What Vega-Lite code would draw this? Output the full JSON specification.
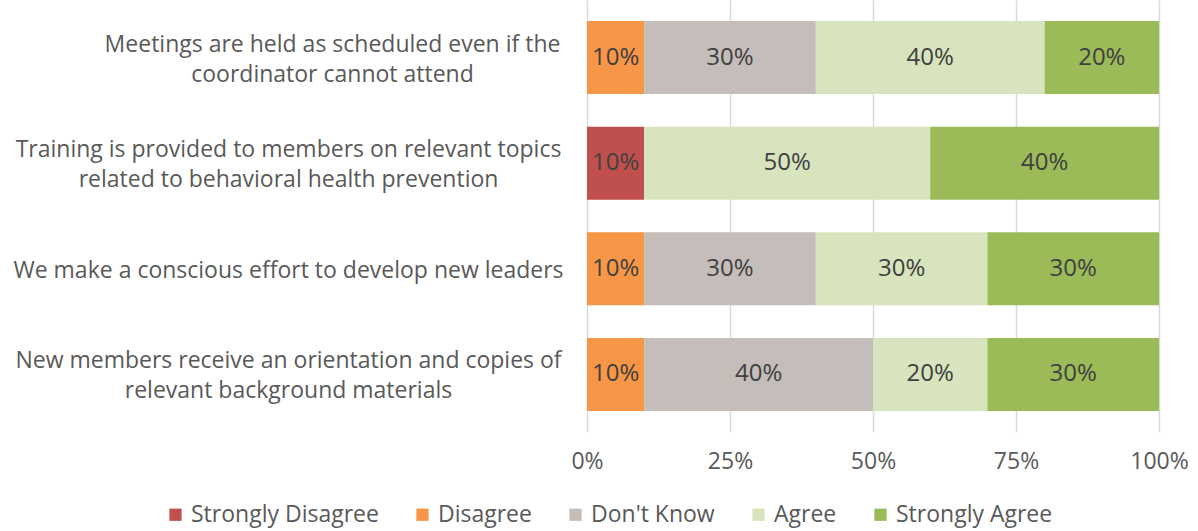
{
  "$schema": "https://vega.github.io/schema/vega-lite/v6.json",
  "width": 572,
  "height": 432,
  "autosize": {"type": "none"},
  "padding": {"left": 587, "top": 0, "right": 39, "bottom": 99},
  "background": "white",
  "data": {
    "values": [
      {"q": "Meetings are held as scheduled even if the|coordinator cannot attend", "qi": 1, "r": "Disagree", "o": 2, "v": 0.1},
      {"q": "Meetings are held as scheduled even if the|coordinator cannot attend", "qi": 1, "r": "Don't Know", "o": 3, "v": 0.3},
      {"q": "Meetings are held as scheduled even if the|coordinator cannot attend", "qi": 1, "r": "Agree", "o": 4, "v": 0.4},
      {"q": "Meetings are held as scheduled even if the|coordinator cannot attend", "qi": 1, "r": "Strongly Agree", "o": 5, "v": 0.2},
      {"q": "Training is provided to members on relevant topics|related to behavioral health prevention", "qi": 2, "r": "Strongly Disagree", "o": 1, "v": 0.1},
      {"q": "Training is provided to members on relevant topics|related to behavioral health prevention", "qi": 2, "r": "Agree", "o": 4, "v": 0.5},
      {"q": "Training is provided to members on relevant topics|related to behavioral health prevention", "qi": 2, "r": "Strongly Agree", "o": 5, "v": 0.4},
      {"q": "We make a conscious effort to develop new leaders", "qi": 3, "r": "Disagree", "o": 2, "v": 0.1},
      {"q": "We make a conscious effort to develop new leaders", "qi": 3, "r": "Don't Know", "o": 3, "v": 0.3},
      {"q": "We make a conscious effort to develop new leaders", "qi": 3, "r": "Agree", "o": 4, "v": 0.3},
      {"q": "We make a conscious effort to develop new leaders", "qi": 3, "r": "Strongly Agree", "o": 5, "v": 0.3},
      {"q": "New members receive an orientation and copies of|relevant background materials", "qi": 4, "r": "Disagree", "o": 2, "v": 0.1},
      {"q": "New members receive an orientation and copies of|relevant background materials", "qi": 4, "r": "Don't Know", "o": 3, "v": 0.4},
      {"q": "New members receive an orientation and copies of|relevant background materials", "qi": 4, "r": "Agree", "o": 4, "v": 0.2},
      {"q": "New members receive an orientation and copies of|relevant background materials", "qi": 4, "r": "Strongly Agree", "o": 5, "v": 0.3}
    ]
  },
  "transform": [
    {"stack": "v", "groupby": ["q"], "sort": [{"field": "o", "order": "ascending"}], "as": ["v0", "v1"]},
    {"calculate": "(datum.v0 + datum.v1) / 2", "as": "vm"}
  ],
  "encoding": {
    "y": {
      "field": "q", "type": "nominal",
      "sort": {"field": "qi", "order": "ascending"},
      "scale": {"paddingInner": 0.31, "paddingOuter": 0.2},
      "axis": {
        "title": null, "domain": false, "ticks": false,
        "labelExpr": "split(datum.label, '|')",
        "labelFont": "Open Sans", "labelFontSize": 23, "labelColor": "#595959",
        "labelAlign": "center",
        "labelPadding": {"condition": {"test": "datum.value == 'Meetings are held as scheduled even if the|coordinator cannot attend'", "value": 255}, "value": 299},
        "labelOffset": {"condition": {"test": "datum.value == 'We make a conscious effort to develop new leaders'", "value": 2}, "value": -13},
        "labelLineHeight": 30, "labelLimit": 700
      }
    }
  },
  "layer": [
    {
      "mark": {"type": "bar"},
      "encoding": {
        "x": {
          "field": "v0", "type": "quantitative",
          "scale": {"domain": [0, 1]},
          "axis": {
            "title": null, "format": "%", "values": [0, 0.25, 0.5, 0.75, 1],
            "domain": false, "ticks": false, "grid": true, "gridColor": "#D9D9D9", "gridWidth": 1.5,
            "labelFlush": false,
            "labelFont": "Open Sans", "labelFontSize": 23, "labelColor": "#595959", "labelPadding": 18
          }
        },
        "x2": {"field": "v1"},
        "color": {
          "field": "r", "type": "nominal",
          "scale": {
            "domain": ["Strongly Disagree", "Disagree", "Don't Know", "Agree", "Strongly Agree"],
            "range": ["#C0504D", "#F79646", "#C4BDB9", "#D7E4BD", "#9BBB59"]
          },
          "legend": {
            "title": null, "orient": "none", "direction": "horizontal",
            "legendX": -423, "legendY": 503,
            "symbolType": "square", "symbolSize": 150, "symbolStrokeWidth": 0,
            "labelFont": "Open Sans", "labelFontSize": 23, "labelColor": "#595959",
            "labelLimit": 400,
            "columnPadding": 32, "labelOffset": 4
          }
        }
      }
    },
    {
      "mark": {"type": "text", "font": "Open Sans", "fontSize": 24, "color": "#404040"},
      "encoding": {
        "x": {"field": "vm", "type": "quantitative"},
        "text": {"field": "v", "type": "quantitative", "format": ".0%"}
      }
    }
  ],
  "config": {"view": {"stroke": null}}
}
